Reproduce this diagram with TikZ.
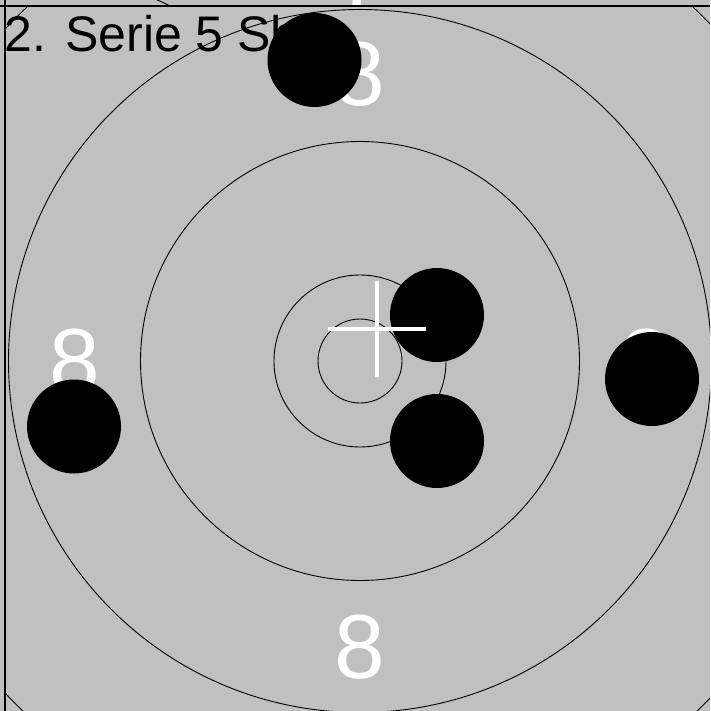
\documentclass[tikz,border=0pt]{standalone}
\usepackage{fontspec}
\setmainfont{Liberation Sans}
\definecolor{bggray}{HTML}{C0C0C0}
\begin{document}
\begin{tikzpicture}[x=1pt,y=-1pt,
  ring/.style={circle,draw=black,line width=0.9pt,inner sep=0pt,outer sep=0pt,minimum size=#1},
  shot/.style={circle,fill=black,inner sep=0pt,outer sep=0pt,minimum size=94pt},
  ringnum/.style={text=white,font=\fontsize{91}{91}\selectfont,inner sep=0pt,outer sep=0pt},
  crossline/.style={draw=white,line width=4pt},
  frameline/.style={draw=black,line width=1.3pt},
  title/.style={text=black,font=\fontsize{50}{50}\selectfont,inner sep=0pt,outer sep=0pt}]
\useasboundingbox (0,0) rectangle (710,711);
\fill[bggray] (0,0) rectangle (710,711);
% top strip (part of the previous target)
\begin{scope}
  \clip (0,0) rectangle (710,6);
  \coordinate (arcA) at (155,-1);
  \coordinate (arcB) at (170,6);
  \draw[black,line width=0.9pt] (arcA) to[bend left=3] (arcB);
  \node[ringnum,anchor=base west] (seven) at (336,9) {7};
\end{scope}
% main target
\begin{scope}
  \clip (5,6) rectangle (710,711);
  \coordinate (c) at (360,361);
  \node[ring=84pt] (r10) at (c) {};
  \node[ring=172pt] (r9) at (c) {};
  \node[ring=439pt] (r8) at (c) {};
  \node[ring=703pt] (r7) at (c) {};
  \node[ring=972pt] (r6) at (c) {};
  \node[ringnum] (n8top) at (360,74.5) {8};
  \node[ringnum] (n8left) at (74.5,361.5) {8};
  \node[ringnum] (n8right) at (646.5,361.5) {8};
  \node[ringnum] (n8bottom) at (360,647.5) {8};
  \node[title,anchor=base west] (ttl) at (5,52) {2. Serie 5 Shot};
  \node[shot] (s1) at (314.5,60) {};
  \node[shot] (s2) at (437,315) {};
  \node[shot] (s3) at (437,441) {};
  \node[shot] (s4) at (652,379) {};
  \node[shot] (s5) at (74,426.5) {};
  \coordinate (ch1) at (328,328.5);
  \coordinate (ch2) at (426,328.5);
  \coordinate (cv1) at (377,281);
  \coordinate (cv2) at (377,377);
  \draw[crossline] (ch1) -- (ch2);
  \draw[crossline] (cv1) -- (cv2);
\end{scope}
% frame lines
\coordinate (fl1) at (5,0);
\coordinate (fl2) at (5,711);
\coordinate (ft1) at (0,6);
\coordinate (ft2) at (710,6);
\draw[frameline] (fl1) -- (fl2);
\draw[frameline] (ft1) -- (ft2);
\end{tikzpicture}
\end{document}
